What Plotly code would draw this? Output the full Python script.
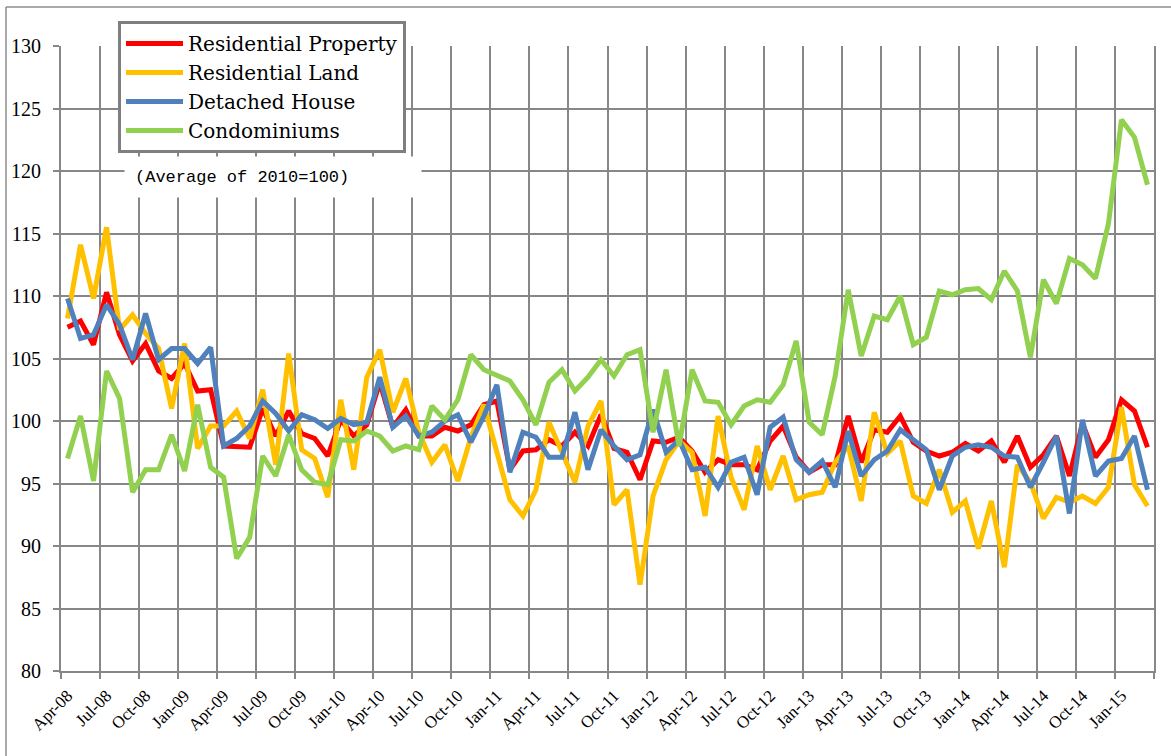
import pandas as pd
import plotly.graph_objects as go

# ---------------- data ----------------
months = pd.period_range("2008-04", "2015-03", freq="M").strftime("%b-%y").tolist()

residential_property = [
    107.5, 108.0, 106.1, 110.3, 106.9, 104.8, 106.2, 104.0, 103.4, 104.6, 102.4, 102.5,
    98.0, 97.9, 97.9, 101.0, 98.8, 100.8, 99.0, 98.6, 97.2, 100.1, 98.8, 99.7,
    103.1, 99.5, 100.9, 98.8, 98.8, 99.5, 99.2, 99.7, 101.3, 101.6, 96.1, 97.6,
    97.7, 98.5, 98.0, 99.1, 98.0, 100.5, 97.8, 97.5, 95.3, 98.4, 98.3, 98.7,
    97.6, 95.9, 96.9, 96.5, 96.5, 96.1, 98.4, 99.6, 97.1, 95.9, 96.5, 96.5,
    100.4, 96.7, 99.3, 99.1, 100.4, 98.3, 97.6, 97.2, 97.5, 98.2, 97.6, 98.4,
    96.7, 98.8, 96.3, 97.3, 98.8, 95.6, 99.8, 97.1, 98.5, 101.7, 100.8, 97.9,
]
residential_land = [
    108.2, 114.1, 109.8, 115.5, 107.3, 108.5, 107.0, 105.8, 101.0, 106.2, 97.8, 99.6,
    99.6, 100.8, 98.6, 102.5, 96.5, 105.4, 97.7, 97.0, 93.9, 101.7, 96.1, 103.5,
    105.7, 100.7, 103.4, 99.1, 96.7, 98.1, 95.2, 98.7, 101.3, 97.6, 93.7, 92.4,
    94.5, 99.9, 97.5, 95.1, 99.6, 101.6, 93.3, 94.5, 86.9, 94.0, 96.9, 98.4,
    97.5, 92.4, 100.4, 95.5, 92.9, 98.0, 94.5, 97.2, 93.7, 94.1, 94.3, 96.7,
    98.0, 93.6, 100.7, 97.4, 98.4, 94.0, 93.4, 96.1, 92.7, 93.6, 89.8, 93.6,
    88.3, 96.5, 95.1, 92.2, 93.9, 93.5, 94.0, 93.4, 94.7, 101.1, 94.9, 93.2,
]
detached_house = [
    109.8, 106.6, 106.9, 109.3, 107.7, 104.9, 108.6, 104.9, 105.8, 105.8, 104.6, 105.9,
    98.0, 98.6, 99.6, 101.6, 100.6, 99.2, 100.5, 100.1, 99.4, 100.2, 99.7, 99.9,
    103.5, 99.5, 100.4, 98.8, 99.1, 100.0, 100.5, 98.3, 100.4, 102.9, 95.9, 99.1,
    98.7, 97.1, 97.1, 100.7, 96.1, 99.3, 98.0, 96.9, 97.3, 100.9, 97.5, 98.5,
    96.1, 96.3, 94.7, 96.7, 97.1, 94.1, 99.5, 100.3, 96.9, 95.9, 96.8, 94.7,
    99.2, 95.6, 96.9, 97.6, 99.3, 98.5, 97.7, 94.5, 97.2, 97.9, 98.1, 97.9,
    97.2, 97.1, 94.7, 96.7, 98.8, 92.6, 100.1, 95.6, 96.8, 97.0, 98.8, 94.5,
]
condominiums = [
    97.0, 100.4, 95.2, 104.0, 101.8, 94.3, 96.1, 96.1, 98.9, 96.0, 101.3, 96.3,
    95.5, 89.0, 90.7, 97.2, 95.6, 98.9, 96.1, 95.1, 94.9, 98.5, 98.4, 99.2,
    98.8, 97.6, 98.0, 97.7, 101.2, 100.1, 101.7, 105.3, 104.1, 103.7, 103.2, 101.7,
    99.7, 103.1, 104.1, 102.4, 103.5, 104.9, 103.6, 105.3, 105.7, 99.1, 104.1, 98.0,
    104.1, 101.6, 101.5, 99.7, 101.2, 101.7, 101.5, 102.9, 106.4, 99.9, 98.9, 103.6,
    110.5, 105.2, 108.4, 108.1, 110.0, 106.1, 106.7, 110.4, 110.1, 110.5, 110.6, 109.7,
    112.0, 110.4, 105.1, 111.3, 109.4, 113.0, 112.5, 111.4, 115.8, 124.1, 122.7, 118.9,
]

series_names = ["Residential Property", "Residential Land", "Detached House", "Condominiums"]
series_values = [residential_property, residential_land, detached_house, condominiums]
series_colors = ["#FF0000", "#FFC000", "#4F81BD", "#92D050"]

x_idx = list(range(len(months)))
tick_pos = x_idx[::3]
tick_text = months[::3]
boundaries = [i - 0.5 for i in range(0, len(months) + 1, 3)]

# ---------------- layout helpers ----------------
W, H = 1171, 756
ML, MR, MT, MB = 61, 17, 46, 85
PW, PH = W - ML - MR, H - MT - MB


def px_x(px):
    return (px - ML) / PW


def px_y(py):
    return (H - MB - py) / PH


GRID = "#878787"
SERIF = "Liberation Serif"

fig = go.Figure()
for name, vals, col in zip(series_names, series_values, series_colors):
    fig.add_trace(go.Scatter(
        x=x_idx, y=vals, mode="lines", name=name,
        line=dict(color=col, width=5), hoverinfo="skip",
    ))

fig.update_layout(
    width=W, height=H,
    margin=dict(l=ML, r=MR, t=MT, b=MB, pad=0, autoexpand=False),
    paper_bgcolor="white", plot_bgcolor="white",
    showlegend=True,
    legend=dict(
        x=px_x(118), y=px_y(21), xanchor="left", yanchor="top",
        bgcolor="white", bordercolor="#7f7f7f", borderwidth=3,
        font=dict(family="DejaVu Serif", size=20, color="black"),
        itemwidth=57, tracegroupgap=0,
    ),
    xaxis=dict(
        range=[-0.5, len(months) - 0.5],
        tickmode="array", tickvals=tick_pos, ticktext=tick_text,
        tickangle=-45, ticks="", showgrid=False, zeroline=False,
        showline=True, linecolor=GRID, linewidth=2,
        tickfont=dict(family=SERIF, size=17, color="black"),
        ticklabelstandoff=6,
        minor=dict(tickmode="array", tickvals=boundaries, showgrid=True,
                   gridcolor=GRID, gridwidth=2, ticks="outside", ticklen=6,
                   tickcolor=GRID, tickwidth=2),
    ),
    yaxis=dict(
        range=[80, 130], tick0=80, dtick=5,
        showgrid=True, gridcolor=GRID, gridwidth=2, zeroline=False,
        ticks="outside", ticklen=6, tickcolor=GRID, tickwidth=2,
        showline=True, mirror=True, linecolor=GRID, linewidth=2,
        tickfont=dict(family=SERIF, size=20, color="black"),
        ticklabelstandoff=8,
    ),
    annotations=[dict(
        text="(Average of 2010=100)", showarrow=False,
        xref="paper", yref="paper",
        x=px_x(124), y=px_y(177), xanchor="left", yanchor="middle",
        font=dict(family="Liberation Mono", size=17, color="black"),
        bgcolor="white", borderpad=10, width=276, height=20, align="left",
    )],
    shapes=[
        dict(type="line", xref="paper", yref="paper",
             x0=px_x(6), x1=px_x(6), y0=px_y(7), y1=px_y(H),
             line=dict(color="#8c8c8c", width=1.5)),
        dict(type="line", xref="paper", yref="paper",
             x0=px_x(6), x1=px_x(W), y0=px_y(7), y1=px_y(7),
             line=dict(color="#8c8c8c", width=1.5)),
    ],
)

fig.write_html(
    "out.html",
    config={"displayModeBar": False},
    post_script="document.body.style.margin='0';document.body.style.overflow='hidden';",
)
